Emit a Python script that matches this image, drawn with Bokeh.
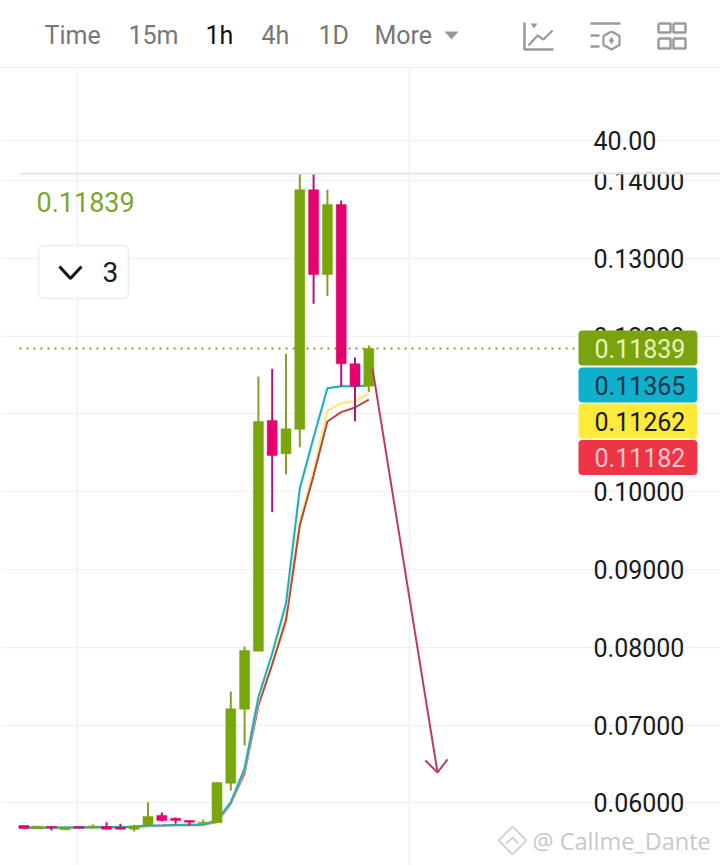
from bokeh.plotting import figure
from bokeh.layouts import column
from bokeh.models import (Range1d, FixedTicker, LinearAxis, Label, BoxAnnotation, Grid,
                          NumeralTickFormatter, ColumnDataSource)
from bokeh.embed import file_html
from bokeh.resources import INLINE

OPEN = [.05708,.05666,.05695,.05653,.05695,.05679,.05695,.05686,.05661,.05708,.05837,.05802,.05772,.0573,
        .05743,.06252,.07203,.07949,.10914,.10486,.10802,.13879,.1279,.1369,.11643,.11355]
CLOSE = [.0567,.05699,.05679,.05686,.05674,.05699,.05661,.05661,.05704,.05824,.05772,.05772,.05751,.05751,
         .06261,.07208,.07958,.10901,.10464,.10807,.13879,.1279,.1369,.11643,.11355,.11839]
HIGH = [.05708,.05699,.05695,.05686,.05695,.05721,.05751,.0573,.05717,.06008,.05875,.05811,.05776,.05785,
        .06261,.07431,.08009,.11479,.11578,.11771,.1408,.1408,.13879,.13742,.11724,.11878]
LOW = [.0567,.05666,.05644,.05653,.05674,.05679,.05661,.05661,.05631,.05708,.0576,.0573,.05708,.0573,
       .05743,.06158,.06737,.07949,.09735,.1022,.10571,.12414,.12512,.11355,.10905,.11278]
MA_CYAN = [.05683,.05683,.05683,.05684,.05685,.05686,.05688,.0569,.05693,.05708,.05711,.05715,.05718,.05721,
           .05772,.06008,.06441,.07357,.07919,.08562,.1004,.10695,.11329,.11355,.11355,.11365]
MA_YELLOW = [.05675,.05675,.05675,.05676,.05677,.05678,.0568,.05682,.05685,.057,.05703,.05707,.0571,.05713,
             .0576,.05991,.06389,.07276,.07803,.08382,.09629,.10271,.11042,.11136,.11162,.11262]
MA_RED = [.05678,.05678,.05678,.05679,.0568,.05681,.05683,.05685,.05688,.05703,.05706,.0571,.05713,.05716,
          .05754,.05985,.06383,.07251,.07778,.08343,.09564,.10207,.10901,.11021,.11081,.11182]
PRICE_TICKS = [.06,.07,.08,.09,.10,.11,.12,.13,.14]
PANE_TICKS = [40]
LAST_PRICE = .11839
TAGS = [("0.11839", 347.5, "#7ba30f", "#e6f5b4"), ("0.11365", 384.5, "#0fb0cc", "#0d3349"),
        ("0.11262", 420.5, "#ffe93b", "#1a1a1a"), ("0.11182", 457, "#ee3548", "#f9c6cc")]
ARROW_X = [25.27, 29.98]
ARROW_Y = [.11582, .0639]
ARROW_HEAD_X = [29.1, 29.98, 30.7]
ARROW_HEAD_Y = [.06544, .0639, .06557]
TABS = [("Time", 44, "#777777"), ("15m", 128, "#777777"), ("1h", 205, "#111111"),
        ("4h", 261, "#777777"), ("1D", 318, "#777777"), ("More", 374, "#777777")]

FONT = "Roboto"
GRID = "#f1f1f1"
GREEN, MAGENTA = "#78a60c", "#e5006d"
WICK_G, WICK_M = "#8c9c24", "#ad1580"

W = 720
PX_X0, PX_X1 = 23.3, 13.8        # page px of candle 0, px per candle
PX_Y0, PX_Y1 = 802.3, 7780.0     # page px of 0.06, px per price unit


def X(px):
    return (px - PX_X0) / PX_X1


def Y(py):
    return .06 + (PX_Y0 - py) / PX_Y1


def base(height, x_range, y_range):
    p = figure(width=W, height=height, x_range=x_range, y_range=y_range,
               toolbar_location=None, output_backend="svg",
               min_border_left=0, min_border_right=0, min_border_top=0, min_border_bottom=0,
               x_axis_type=None, y_axis_type=None)
    p.outline_line_color = None
    p.grid.visible = False
    return p


def style_axis(a):
    a.axis_line_color = None
    a.major_tick_line_color = None
    a.minor_tick_line_color = None
    a.major_label_text_font = FONT
    a.major_label_text_font_size = "25px"
    a.major_label_text_color = "#1a1a1a"
    a.major_label_standoff = 9


# ---------- header ----------
head = base(68, Range1d(0, 720), Range1d(68, 0))
head.line([0, 720], [67.5, 67.5], line_color="#f0f0f0", line_width=2)
for txt, px, col in TABS:
    head.add_layout(Label(x=px, y=35, text=txt, text_font=FONT, text_font_size="25px",
                          text_color=col, text_align="left", text_baseline="middle"))
ICON = "#9a9a9a"
head.patch([444, 458, 451], [31, 31, 39], fill_color="#999999", line_color=None)
# chart icon
head.line([524, 524, 553], [22, 49, 49], line_color=ICON, line_width=2.5)
head.patch([530, 537, 533.5], [23, 23, 28], fill_color=ICON, line_color=None)
head.line([528, 537, 543, 552], [45, 35, 39, 30], line_color=ICON, line_width=2.2)
# indicator icon
head.line([590, 620], [23, 23], line_color=ICON, line_width=2.5)
head.line([590, 599], [35, 35], line_color=ICON, line_width=2.5)
head.line([590, 599], [46, 46], line_color=ICON, line_width=2.5)
head.line([611, 619, 619, 611, 603, 603, 611], [31, 35.5, 44.5, 49, 44.5, 35.5, 31], line_color=ICON, line_width=2.2)
head.scatter([611], [40], size=6, marker="diamond", color=ICON)
# layout icon
for x0, x1 in ((658, 670), (673, 685)):
    for y0, y1 in ((23, 32), (38, 48)):
        head.line([x0, x1, x1, x0, x0], [y0, y0, y1, y1, y0], line_color=ICON, line_width=2.5)

# ---------- chart (page y 68..865) ----------
main = base(797, Range1d(X(0), X(720)), Range1d(Y(865), Y(68)))
main.extra_y_ranges = {"pane": Range1d(40 - (865 - 140) * .5, 40 + (140 - 68) * .5)}

axis = LinearAxis(ticker=FixedTicker(ticks=PRICE_TICKS), formatter=NumeralTickFormatter(format="0.00000"),
                  fixed_location=X(578))
style_axis(axis)
main.add_layout(axis, "right")
pane_axis = LinearAxis(y_range_name="pane", ticker=FixedTicker(ticks=PANE_TICKS),
                       formatter=NumeralTickFormatter(format="0.00"), fixed_location=X(578))
style_axis(pane_axis)
main.add_layout(pane_axis, "right")

main.add_layout(Grid(dimension=0, ticker=FixedTicker(ticks=[3.9, 27.95]), grid_line_color=GRID, grid_line_width=1.5))
main.add_layout(Grid(dimension=1, ticker=FixedTicker(ticks=PRICE_TICKS), bounds=(X(19), X(578)),
                     grid_line_color=GRID, grid_line_width=1.5))
main.add_layout(Grid(dimension=1, y_range_name="pane", ticker=FixedTicker(ticks=PANE_TICKS), bounds=(X(19), X(578)),
                     grid_line_color=GRID, grid_line_width=1.5))

idx = list(range(len(OPEN)))
up_flag = [c >= o for o, c in zip(OPEN, CLOSE)]
src = ColumnDataSource(dict(
    x=idx, high=HIGH, low=LOW,
    top=[max(o, c) for o, c in zip(OPEN, CLOSE)],
    bottom=[min(o, c) for o, c in zip(OPEN, CLOSE)],
    body=[GREEN if f else MAGENTA for f in up_flag],
    wick=[WICK_G if f else WICK_M for f in up_flag]))

main.line([X(19), X(578)], [LAST_PRICE, LAST_PRICE], line_color="#8c9c1a", line_width=2, line_dash="2 5")

main.line(idx, MA_YELLOW, line_color="#fff9c9", line_width=4, line_alpha=0.7)
main.line(idx, MA_YELLOW, line_color="#f3e88a", line_width=2)
main.line(idx, MA_RED, line_color="#b8453f", line_width=2)
main.line(idx, MA_CYAN, line_color="#c8f5f5", line_width=4, line_alpha=0.5)
main.line(idx, MA_CYAN, line_color="#29a9b5", line_width=2)

main.segment("x", "high", "x", "low", source=src, line_color="wick", line_width=2)
main.vbar("x", 10 / PX_X1, "top", "bottom", source=src, fill_color="body", line_color="body", line_width=0.5)

main.line(ARROW_X, ARROW_Y, line_color="#b93f57", line_width=2)
main.line(ARROW_HEAD_X, ARROW_HEAD_Y, line_color="#b93f57", line_width=2)

# pane boundary: hides the top of the 0.14000 tick label, as in the app
main.add_layout(BoxAnnotation(left=X(579), right=X(720), top=Y(154), bottom=Y(172.2), fill_color="white", fill_alpha=1,
                              line_color=None, level="overlay"))
main.add_layout(BoxAnnotation(left=X(19), right=X(720), top=Y(172.2), bottom=Y(174), fill_color="#e4e4e4", fill_alpha=1,
                              line_color=None, level="overlay"))

# last price text
main.add_layout(Label(x=X(36), y=Y(201), text="0.11839", text_font=FONT, text_font_size="27px",
                      text_color="#7ea52e", text_align="left", text_baseline="middle"))
# collapse box
main.add_layout(BoxAnnotation(left=X(38), right=X(128), top=Y(245), bottom=Y(298), fill_color="white", fill_alpha=1,
                              line_color="#d2d2d2", line_width=2, border_radius=5, level="underlay"))
main.line([X(59), X(70), X(81)], [Y(266), Y(278), Y(266)], line_color="#111111", line_width=3)
main.add_layout(Label(x=X(102), y=Y(271), text="3", text_font=FONT, text_font_size="28px",
                      text_color="#1a1a1a", text_align="left", text_baseline="middle"))
# price tags
for txt, py, bg, fg in TAGS:
    main.add_layout(Label(x=X(578), y=Y(py), text=txt, text_font=FONT, text_font_size="25px", text_color=fg,
                          text_align="left", text_baseline="middle", background_fill_color=bg,
                          padding=(16, 12, 8, 8), border_radius=4))
# watermark
WM = "#d4d4d4"
main.line([X(p) for p in (512, 526, 512, 498, 512)], [Y(p) for p in (826, 840, 854, 840, 826)],
          line_color=WM, line_width=2)
main.line([X(p) for p in (506, 512, 518)], [Y(p) for p in (843, 837, 843)], line_color=WM, line_width=2)
main.add_layout(Label(x=X(532), y=Y(840), text="@ Callme_Dante", text_font="Open Sans", text_font_size="23.5px",
                      text_color="#c8c8c8", text_align="left", text_baseline="middle"))

layout = column(head, main, spacing=0)
open("out.html", "w").write(file_html(layout, INLINE))
